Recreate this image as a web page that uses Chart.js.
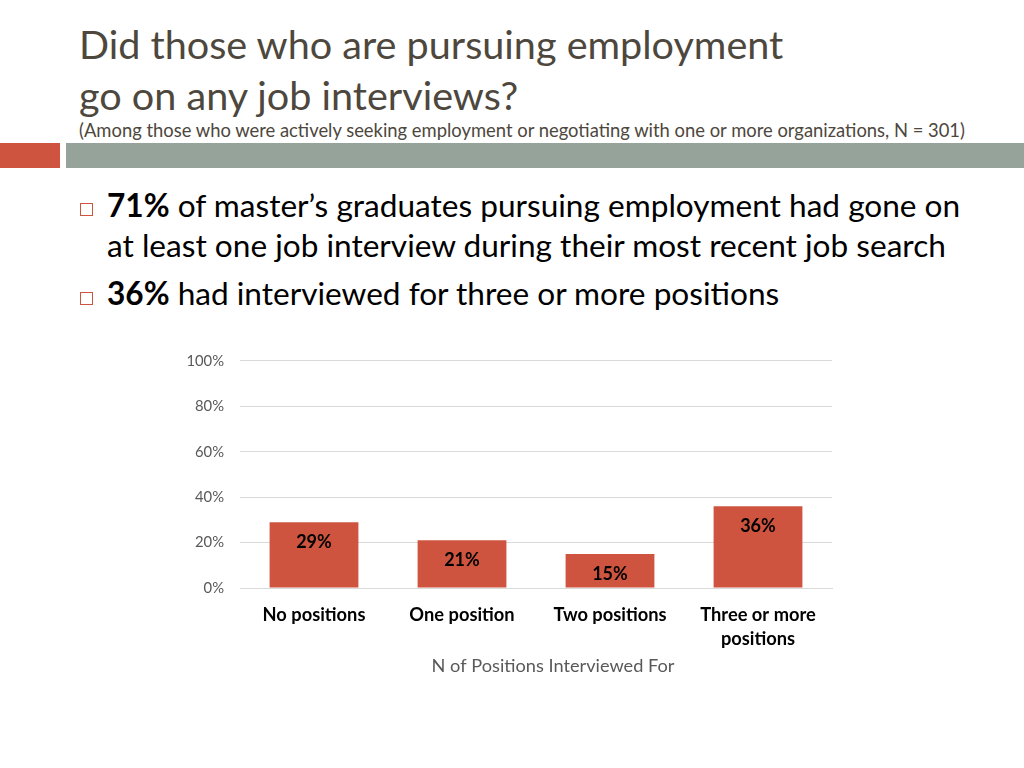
<!DOCTYPE html>
<html><head><meta charset="utf-8">
<script src="https://cdn.jsdelivr.net/npm/chart.js@4/dist/chart.umd.min.js"></script>
<style>
body{margin:0;width:1024px;height:768px;background:#fff;position:relative;overflow:hidden;font-family:Lato,"Open Sans",sans-serif;}
#t1{position:absolute;left:79px;top:18px;font-size:39.6px;color:#4d473d;line-height:51px;white-space:nowrap;}
#sub{position:absolute;left:79px;top:119px;font-size:18.4px;color:#4d473d;white-space:nowrap;}
#red{position:absolute;left:0;top:143px;width:60px;height:25px;background:#cf543f;}
#gray{position:absolute;left:66px;top:143px;width:958px;height:25px;background:#95a39b;}
.b{position:absolute;left:80px;font-size:31.6px;color:#000;white-space:nowrap;line-height:40px;}
.sq{position:absolute;left:80px;width:11px;height:11px;border:1px solid #cf543f;}
#wrap{position:absolute;left:170px;top:336px;width:690px;height:354px;}
</style></head><body>
<div id="t1">Did those who are pursuing employment<br>go on any job interviews?</div>
<div id="sub">(Among those who were actively seeking employment or negotiating with one or more organizations, N = 301)</div>
<div id="red"></div><div id="gray"></div>
<div class="sq" style="top:203px"></div>
<div class="b" style="left:107px;top:185px"><b>71%</b> of master’s graduates pursuing employment had gone on<br>at least one job interview during their most recent job search</div>
<div class="sq" style="top:292px"></div>
<div class="b" style="left:107px;top:273px"><b>36%</b> had interviewed for three or more positions</div>
<div id="wrap"><canvas id="c"></canvas></div>
<script>
const categories = ["No positions","One position","Two positions",["Three or more","positions"]];
const values = [29,21,15,36];
const yTicks = [0,20,40,60,80,100];
const axisTitle = "N of Positions Interviewed For";
const FF = 'Lato, "Open Sans", sans-serif';

const labelPlugin = {
  id:'barLabels',
  afterDatasetsDraw(chart){
    const ctx = chart.ctx;
    const meta = chart.getDatasetMeta(0);
    ctx.save();
    ctx.font = 'bold 18px ' + FF;
    ctx.fillStyle = '#000';
    ctx.textAlign = 'center';
    ctx.textBaseline = 'middle';
    meta.data.forEach((bar,i)=>{
      ctx.fillText(values[i]+'%', bar.x, bar.y+20);
    });
    const a = chart.chartArea;
    ctx.font = '18.2px ' + FF;
    ctx.fillStyle = '#595959';
    ctx.fillText(axisTitle, (a.left+a.right)/2 + 17, a.bottom + 78);
    ctx.restore();
  }
};

new Chart(document.getElementById('c'),{
  type:'bar',
  data:{labels:categories,datasets:[{data:values,backgroundColor:'#cf543f',barPercentage:0.6,categoryPercentage:1.0}]},
  options:{
    responsive:true,maintainAspectRatio:false,animation:false,
    layout:{padding:{top:13,right:28,left:0,bottom:0}},
    plugins:{legend:{display:false},tooltip:{enabled:false}},
    scales:{
      y:{min:0,max:100,afterFit(s){s.width=70;},
        afterBuildTicks(s){s.ticks=yTicks.map(v=>({value:v}));},
        ticks:{callback:v=>v+'%',color:'#595959',font:{size:14.8,family:FF},padding:16},
        grid:{color:'#d9d9d9',drawTicks:false},border:{display:false}},
      x:{afterFit(s){s.height=102;},
        ticks:{color:'#000',font:{size:18.3,weight:'bold',family:FF,lineHeight:1.3},padding:7,maxRotation:0},
        grid:{display:false},border:{color:'#d9d9d9'}}
    }
  },
  plugins:[labelPlugin]
});
</script>
</body></html>
